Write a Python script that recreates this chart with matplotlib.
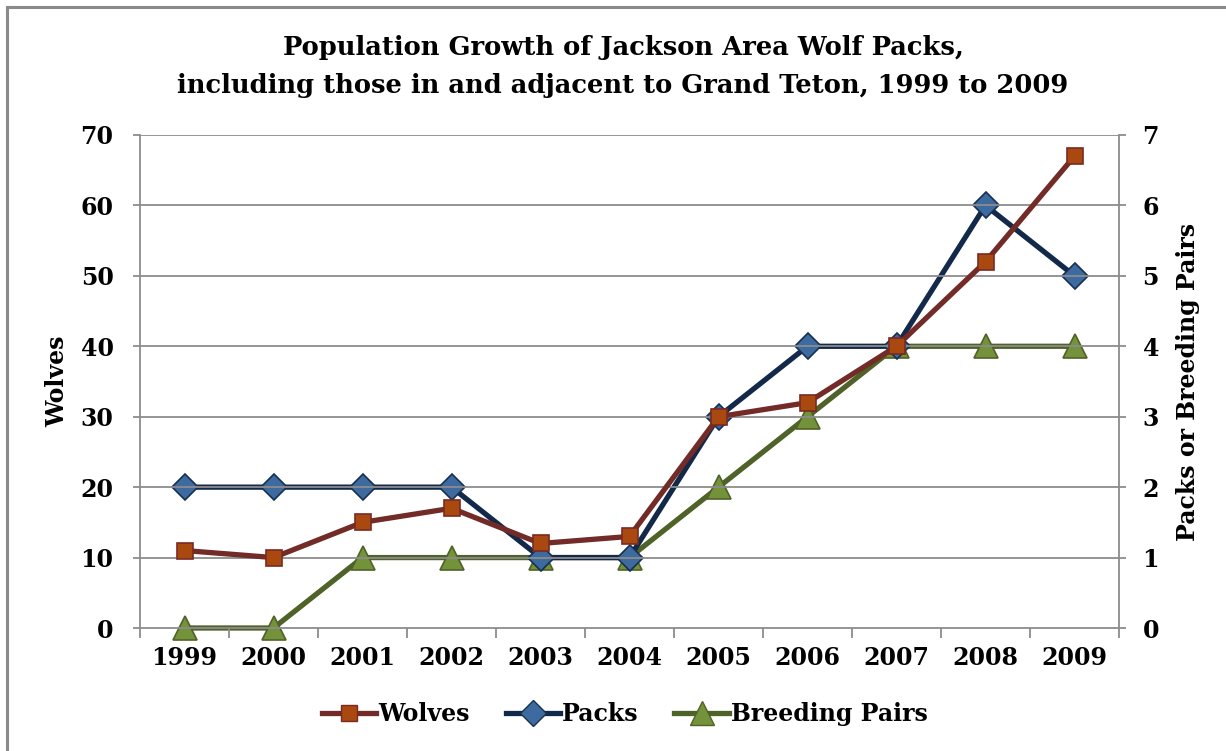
import matplotlib
matplotlib.use("Agg")
import matplotlib.pyplot as plt
from matplotlib.lines import Line2D

years = ["1999", "2000", "2001", "2002", "2003", "2004", "2005", "2006", "2007", "2008", "2009"]
wolves = [11, 10, 15, 17, 12, 13, 30, 32, 40, 52, 67]
packs = [2, 2, 2, 2, 1, 1, 3, 4, 4, 6, 5]
breeding_pairs = [0, 0, 1, 1, 1, 1, 2, 3, 4, 4, 4]

W, H = 1226, 751
fig = plt.figure(figsize=(W / 100, H / 100), dpi=100)
FONT = "DejaVu Serif"
plt.rcParams['font.family'] = [FONT]

left, right, top, bottom = 140, 1119, 135, 628
ax = fig.add_axes([left / W, 1 - bottom / H, (right - left) / W, (bottom - top) / H])
ax2 = ax.twinx()

x = list(range(len(years)))
ax.set_xlim(-0.5, len(years) - 0.5)
ax.set_ylim(0, 70)
ax2.set_ylim(0, 7)
ax.set_yticks(range(0, 71, 10))
ax2.set_yticks(range(0, 8, 1))

grid_c = "#8c8c8c"
for v in range(10, 71, 10):
    ax.axhline(v, color=grid_c, lw=1.3, zorder=0)

for a in (ax, ax2):
    for s in a.spines.values():
        s.set_visible(False)
for a, side in ((ax, 'left'), (ax, 'bottom'), (ax2, 'right')):
    a.spines[side].set_visible(True)
    a.spines[side].set_color(grid_c)
    a.spines[side].set_linewidth(1.3)

TS = 17
ax.set_xticks([i + 0.5 for i in range(-1, len(years))], minor=False)
ax.set_xticklabels([])
ax.set_xticks(x, minor=True)
ax.set_xticklabels(years, minor=True)
ax.tick_params(axis='x', which='major', length=7, color=grid_c, width=1.3, direction='out')
ax.tick_params(axis='x', which='minor', length=0, pad=13, labelsize=TS)
ax.tick_params(axis='y', length=5, color=grid_c, width=1.3, direction='out', pad=14, labelsize=TS)
ax2.tick_params(axis='y', length=5, color=grid_c, width=1.3, direction='out', pad=12, labelsize=TS)
for lab in ax.get_xticklabels(minor=True) + ax.get_yticklabels() + ax2.get_yticklabels():
    lab.set_fontweight('bold')

wolf_line, wolf_face, wolf_edge = "#722b27", "#a9490f", "#7a2a22"
pack_line, pack_face, pack_edge = "#13294a", "#3d6ba0", "#17304f"
bp_line, bp_face, bp_edge = "#4f6228", "#74923a", "#4f6228"

ax2.plot(x, breeding_pairs, color=bp_line, lw=3.8, marker='^', ms=17,
         mfc=bp_face, mec=bp_edge, mew=1.2, zorder=3, clip_on=False)
ax2.plot(x, packs, color=pack_line, lw=3.8, marker='D', ms=13,
         mfc=pack_face, mec=pack_edge, mew=1.2, zorder=4, clip_on=False)
ax.set_zorder(ax2.get_zorder() + 1)
ax.patch.set_visible(False)
ax.plot(x, wolves, color=wolf_line, lw=3.8, marker='s', ms=12,
        mfc=wolf_face, mec=wolf_edge, mew=1.2, zorder=5, clip_on=False)

ax.set_ylabel("Wolves", fontsize=TS, fontweight='bold', labelpad=8)
ax2.set_ylabel("Packs or Breeding Pairs", fontsize=TS, fontweight='bold', labelpad=12)

fig.text(623 / W, 1 - 66.5 / H,
         "Population Growth of Jackson Area Wolf Packs,\nincluding those in and adjacent to Grand Teton, 1999 to 2009",
         ha='center', va='center', fontsize=18.5, fontweight='bold', linespacing=1.62)

handles = [
    Line2D([], [], color=wolf_line, lw=3.8, marker='s', ms=12, mfc=wolf_face, mec=wolf_edge),
    Line2D([], [], color=pack_line, lw=3.8, marker='D', ms=13, mfc=pack_face, mec=pack_edge),
    Line2D([], [], color=bp_line, lw=3.8, marker='^', ms=17, mfc=bp_face, mec=bp_edge),
]
leg = fig.legend(handles, ["Wolves", "Packs", "Breeding Pairs"], loc='center',
                 bbox_to_anchor=(625 / W, 1 - 714 / H), ncol=3, frameon=False,
                 prop={'family': FONT, 'weight': 'bold', 'size': TS},
                 handlelength=2.3, handletextpad=0.1, columnspacing=1.5)

# chart border
fig.add_artist(Line2D([7 / W, 7 / W], [0, 1 - 7 / H], color="#8a8a8a", lw=2.2, transform=fig.transFigure))
fig.add_artist(Line2D([7 / W, 1], [1 - 7 / H, 1 - 7 / H], color="#8a8a8a", lw=2.2, transform=fig.transFigure))

fig.savefig("out.png", dpi=100, facecolor="white")
